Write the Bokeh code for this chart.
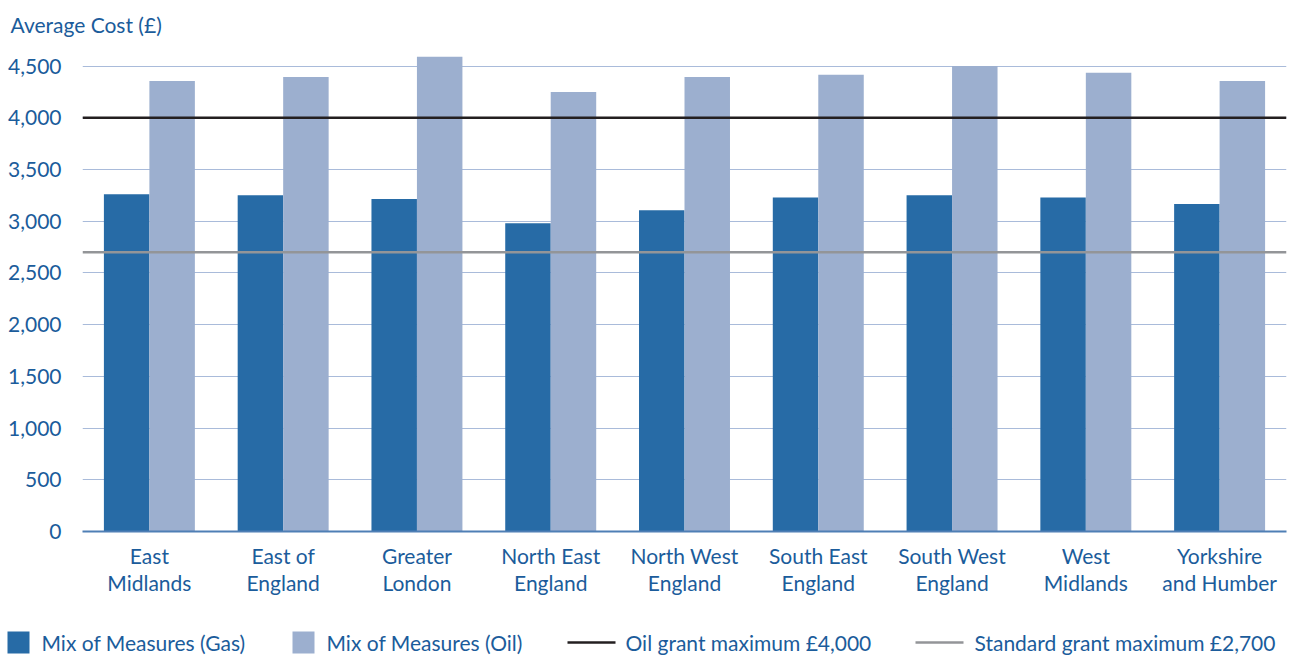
from bokeh.plotting import figure
from bokeh.layouts import column
from bokeh.core.properties import value
from bokeh.models import (ColumnDataSource, FactorRange, Range1d, Span,
                          FixedTicker, NumeralTickFormatter)
from bokeh.transform import dodge
from bokeh.embed import file_html
from bokeh.resources import INLINE

regions = ["East\nMidlands", "East of\nEngland", "Greater\nLondon", "North East\nEngland",
           "North West\nEngland", "South East\nEngland", "South West\nEngland",
           "West\nMidlands", "Yorkshire\nand Humber"]
gas_cost = [3260, 3250, 3215, 2980, 3105, 3230, 3250, 3230, 3165]
oil_cost = [4355, 4395, 4590, 4250, 4395, 4415, 4500, 4435, 4355]
oil_grant_max = 4000
standard_grant_max = 2700
y_ticks = [0, 500, 1000, 1500, 2000, 2500, 3000, 3500, 4000, 4500]
y_caption = "Average Cost (£)"
legend_labels = ["Mix of Measures (Gas)", "Mix of Measures (Oil)",
                 "Oil grant maximum £4,000", "Standard grant maximum £2,700"]

FONT = "Lato"
TEXT = "#1b5c9b"
GAS = "#276ba6"
OIL = "#9cafcf"
GRID = "#a9bbda"
OIL_LINE = "#231f20"
STD_LINE = "#939598"


def strip(height):
    """A bare figure whose ranges are in pixels, for header/legend text."""
    s = figure(width=1296, height=height, x_range=Range1d(0, 1296),
               y_range=Range1d(0, height), output_backend="svg",
               toolbar_location=None, min_border=0,
               x_axis_location=None, y_axis_location=None)
    s.frame_align = False
    s.grid.visible = False
    s.outline_line_color = None
    return s


# header with the y-axis caption
head = strip(50)
head.text(x=[10], y=[26], text=[y_caption], text_font=value(FONT),
          text_font_size="21px", text_color=TEXT, text_baseline="middle",
          text_align="left")

# main chart
src = ColumnDataSource(dict(region=regions, gas=gas_cost, oil=oil_cost))

p = figure(width=1296, height=560, x_range=FactorRange(*regions),
           y_range=Range1d(0, 4650), output_backend="svg", toolbar_location=None,
           min_border_left=82, min_border_right=10, min_border_top=0,
           min_border_bottom=79)
p.outline_line_color = None
p.frame_align = False
p.title.visible = False

p.vbar(x=dodge("region", -0.17, range=p.x_range), top="gas", width=0.34,
       source=src, fill_color=GAS, line_color=None)
p.vbar(x=dodge("region", 0.17, range=p.x_range), top="oil", width=0.34,
       source=src, fill_color=OIL, line_color=None)

p.add_layout(Span(location=oil_grant_max, dimension="width", line_color=OIL_LINE,
                  line_width=2.5))
p.add_layout(Span(location=standard_grant_max, dimension="width", line_color=STD_LINE,
                  line_width=2.5))

p.yaxis.ticker = FixedTicker(ticks=y_ticks)
p.yaxis.formatter = NumeralTickFormatter(format="0,0")
p.yaxis.axis_line_color = None
p.yaxis.major_tick_line_color = None
p.yaxis.minor_tick_line_color = None
p.yaxis.major_label_standoff = 15
p.xaxis.axis_line_color = "#4f7fb5"
p.xaxis.axis_line_width = 2
p.xaxis.major_tick_line_color = None
p.xaxis.minor_tick_line_color = None
p.xaxis.major_label_standoff = 5
p.xaxis.major_label_text_line_height = 1.1
for ax in (p.xaxis, p.yaxis):
    ax.major_label_text_font = FONT
    ax.major_label_text_font_size = "21px"
    ax.major_label_text_color = TEXT
p.xgrid.grid_line_color = None
p.ygrid.grid_line_color = GRID
p.ygrid.grid_line_width = 1.2
p.ygrid.ticker = FixedTicker(ticks=y_ticks[1:])

# legend strip along the bottom
leg = strip(48)
key_y = 16
leg.rect(x=[18, 303], y=[key_y, key_y], width=22, height=22,
         fill_color=[GAS, OIL], line_color=None)
leg.segment(x0=[567], y0=[key_y], x1=[615], y1=[key_y], line_color=OIL_LINE, line_width=2.5)
leg.segment(x0=[915], y0=[key_y], x1=[963], y1=[key_y], line_color=STD_LINE, line_width=2.5)
leg.text(x=[41, 326, 625, 974], y=[key_y] * 4, text=legend_labels,
         text_font=value(FONT), text_font_size="21px", text_color=TEXT,
         text_baseline="middle", text_align="left")

open("out.html", "w").write(file_html(column(head, p, leg, spacing=0), INLINE))
